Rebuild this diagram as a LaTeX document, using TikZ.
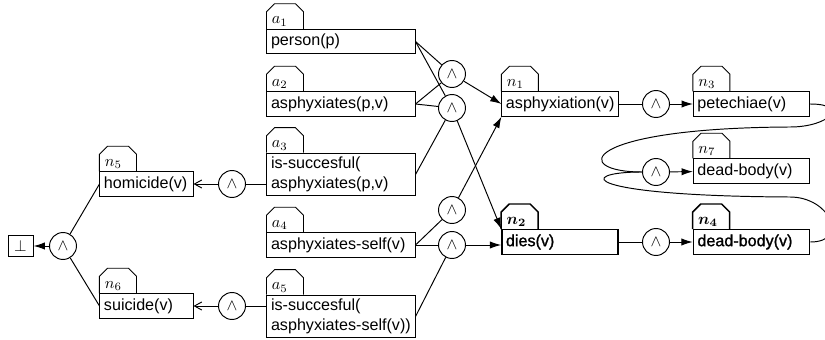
\documentclass[tikz,border=0pt]{standalone}
\usepackage[no-math]{fontspec}
\setmainfont{Liberation Sans}
\newfontface\goalface{Liberation Sans}[FakeBold=1.2]
\usepackage{bm}
\usetikzlibrary{arrows.meta}
\exhyphenpenalty=10000
\hyphenpenalty=10000

\tikzset{
  fact/.style={draw,minimum height=15.2pt,inner xsep=2.5pt,inner ysep=1pt,align=left},
  factA/.style={fact,minimum width=91.8pt,text width=86.8pt},
  factN/.style={fact,minimum width=72pt,text width=67pt},
  factH/.style={fact,minimum width=57.7pt,text width=52.7pt},
  twoline/.style={minimum height=26.4pt},
  goal/.style={line width=0.9pt,font=\goalface},
  conj/.style={draw,circle,minimum size=16.7pt,inner sep=0pt},
  falsum/.style={draw,minimum width=15.5pt,minimum height=13.6pt,inner sep=0pt},
  tablabel/.style={anchor=base west,inner sep=0pt},
  tabedge/.style={line width=#1},
  fire/.style={-{Latex[length=7pt,width=4.5pt]}},
  infer/.style={-{Straight Barb[length=4.5pt,width=5pt]}}
}

\begin{document}
\begin{tikzpicture}[x=0.62pt,y=-0.62pt,line width=0.6pt]
\useasboundingbox (0,0) rectangle (825,340);
% premises
\node[factA] (a1) at (341,41.5) {person(p)};
\node[factA] (a2) at (341,104) {asphyxiates(p,v)};
\node[factA,twoline] (a3) at (341,174.5) {is-succesful(\\asphyxiates(p,v)};
\node[factA] (a4) at (341,245) {asphyxiates-self(v)};
\node[factA,twoline] (a5) at (341,316.5) {is-succesful(\\asphyxiates-self(v))};
% derived facts
\node[factN] (n1) at (560,104) {asphyxiation(v)};
\node[factN,goal] (n2) at (560,242) {dies(v)};
\node[factN] (n3) at (751.5,104) {petechiae(v)};
\node[factN,goal] (n4) at (751.5,242) {dead-body(v)};
\node[factN] (n7) at (751.5,171) {dead-body(v)};
\node[factH] (n5) at (146.5,184) {homicide(v)};
\node[factH] (n6) at (146.5,306) {suicide(v)};
\node[falsum] (bot) at (20.5,246) {$\bot$};
% conjunctions
\node[conj] (c0) at (63,246) {$\wedge$};
\node[conj] (c5) at (232,184) {$\wedge$};
\node[conj] (c6) at (232,306) {$\wedge$};
\node[conj] (c1) at (452,74) {$\wedge$};
\node[conj] (c2) at (452,108) {$\wedge$};
\node[conj] (c1b) at (452,210) {$\wedge$};
\node[conj] (c2b) at (452,245) {$\wedge$};
\node[conj] (c3) at (656,104) {$\wedge$};
\node[conj] (c4) at (656,242) {$\wedge$};
\node[conj] (c7) at (656,172) {$\wedge$};
% tabs
\foreach \nd/\lb/\lw in {a1/a_1/0.6pt,a2/a_2/0.6pt,a3/a_3/0.6pt,a4/a_4/0.6pt,a5/a_5/0.6pt,n1/n_1/0.6pt,n3/n_3/0.6pt,n5/n_5/0.6pt,n6/n_6/0.6pt,n7/n_7/0.6pt,n2/\bm{n_2}/0.9pt,n4/\bm{n_4}/0.9pt}{
  \draw[tabedge=\lw] (\nd.north west) -- ++(0,-17) -- ++(8,-8) -- ++(21,0) -- ++(8,8) -- ++(0,17);
  \node[tablabel] (tab\nd) at ([shift={(5,-5)}]\nd.north west) {$\lb$};
}
% rules
\draw (a1.east) -- (c1);
\draw (a2.east) -- (c1);
\draw (a1.east) -- (c2);
\draw (a2.east) -- (c2);
\draw (a3.east) -- (c2);
\draw (a4.east) -- (c1b);
\draw (a4.east) -- (c2b);
\draw (a5.east) -- (c2b);
\draw[fire] (c1) -- (n1.west);
\draw[fire] (c2) -- (n2.north west);
\draw[fire] (c1b) -- (n1.south west);
\draw[fire] (c2b) -- (c2b -| n2.west);
\draw (n1) -- (c3);
\draw[fire] (c3) -- (n3);
\draw (n2) -- (c4);
\draw[fire] (c4) -- (n4);
\draw (n3.east) .. controls +(40,0) and +(40,0) .. (790,127) .. controls (580,128) and (570,172) .. (c7.west);
\draw (n4.east) .. controls +(40,0) and +(40,0) .. (790,197) .. controls (580,196) and (575,172) .. (c7.west);
\draw[fire] (c7) -- (n7);
\draw (c5) -- (c5 -| a3.west);
\draw[infer] (c5) -- (n5);
\draw (c6) -- (c6 -| a5.west);
\draw[infer] (c6) -- (n6);
\draw (n5.west) -- (c0);
\draw (n6.west) -- (c0);
\draw[fire] (c0) -- (bot);
\end{tikzpicture}
\end{document}
